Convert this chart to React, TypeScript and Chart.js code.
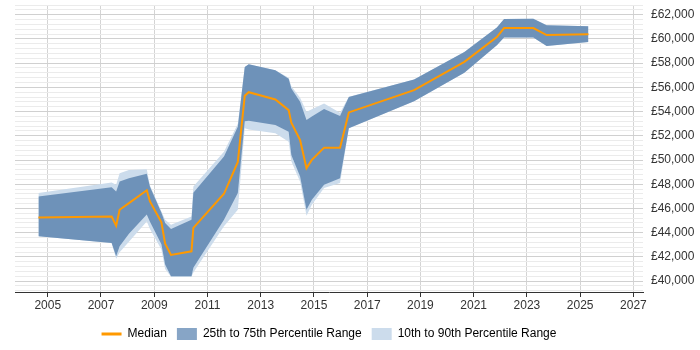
import { useEffect, useRef } from 'react';
import { Chart, registerables } from 'chart.js';

Chart.register(...registerables);

// Dates as decimal years
const dates = [
  2004.65, 2007.4, 2007.57, 2007.7, 2008.05, 2008.72, 2008.84, 2009.27, 2009.41, 2009.63,
  2010.4, 2010.47, 2011.62, 2012.14, 2012.4, 2012.55, 2013.55, 2014.05, 2014.15, 2014.48,
  2014.72, 2014.92, 2015.38, 2015.98, 2016.31, 2018.76, 2020.65, 2021.87, 2022.14, 2023.24,
  2023.74, 2025.31,
];

const median = [
  45250, 45330, 44580, 45890, 46440, 47500, 46580, 44850, 43090, 42160,
  42460, 44390, 47210, 49840, 55300, 55600, 55000, 54120, 53080, 51650,
  49330, 50010, 51020, 51020, 53930, 55770, 58100, 60150, 60900, 60900,
  60320, 60380,
];

const p75 = [
  46990, 47760, 47400, 48220, 48500, 48860, 47800, 45650, 44800, 44300,
  45070, 47300, 50280, 52750, 57690, 57910, 57420, 56700, 55910, 54810,
  53300, 53600, 54210, 53630, 55200, 56650, 58920, 60950, 61650, 61670,
  61120, 61040,
];

const p25 = [
  43700, 43150, 42050, 42870, 43900, 45500, 44900, 43050, 41370, 40400,
  40400, 41100, 45070, 47270, 53200, 53250, 52900, 52340, 50420, 48630,
  45890, 46720, 47950, 48500, 52620, 54850, 57200, 59470, 60110, 60110,
  59420, 59740,
];

const p90 = [
  47270, 48140, 47950, 48910, 49180, 49240, 47900, 45750, 45070, 44660,
  45340, 47810, 50690, 53000, 57690, 57910, 57420, 56800, 56100, 55150,
  53980, 54200, 54670, 53900, 55220, 56650, 58920, 60950, 61650, 61670,
  61120, 61040,
];

const p10 = [
  43700, 43150, 41840, 42380, 43250, 44930, 44300, 42600, 41000, 40350,
  40350, 40700, 44520, 45890, 52620, 52510, 52200, 51510, 49900, 48200,
  45400, 46300, 47680, 48100, 52620, 54850, 57200, 59470, 60110, 60110,
  59420, 59740,
];

const xTickYears = [2005, 2007, 2009, 2011, 2013, 2015, 2017, 2019, 2021, 2023, 2025, 2027];
const yMin = 39100;
const yMax = 62800;
const yMinorStep = 400;
const yMajorStep = 2000;

const legendLabels = ['Median', '25th to 75th Percentile Range', '10th to 90th Percentile Range'];

const ORANGE = '#ff9900';
const DARK = '#6e92b9';
const LIGHT = '#ccdcec';
const FONT = 'Arial, "Liberation Sans", sans-serif';

export default function App() {
  const ref = useRef<HTMLCanvasElement>(null);

  useEffect(() => {
    if (!ref.current) return;
    const pts = (vals: number[]) => dates.map((d, i) => ({ x: d, y: vals[i] }));
    const none = 'rgba(0,0,0,0)';
    Chart.defaults.font.family = FONT;
    Chart.defaults.font.size = 12;
    Chart.defaults.color = '#333';

    const chart = new Chart(ref.current, {
      type: 'line',
      data: {
        datasets: [
          {
            label: legendLabels[0],
            data: pts(median),
            borderColor: ORANGE,
            borderWidth: 2,
            pointRadius: 0,
            fill: false,
            tension: 0,
            order: 0,
          },
          {
            label: legendLabels[1],
            data: pts(p75),
            borderColor: none,
            borderWidth: 0,
            backgroundColor: DARK,
            pointRadius: 0,
            fill: 2,
            tension: 0,
            order: 1,
          },
          {
            label: 'p25',
            data: pts(p25),
            borderColor: none,
            borderWidth: 0,
            pointRadius: 0,
            fill: false,
            tension: 0,
            order: 1,
          },
          {
            label: legendLabels[2],
            data: pts(p90),
            borderColor: none,
            borderWidth: 0,
            backgroundColor: LIGHT,
            pointRadius: 0,
            fill: 4,
            tension: 0,
            order: 2,
          },
          {
            label: 'p10',
            data: pts(p10),
            borderColor: none,
            borderWidth: 0,
            pointRadius: 0,
            fill: false,
            tension: 0,
            order: 2,
          },
        ],
      },
      options: {
        animation: false,
        responsive: true,
        maintainAspectRatio: false,
        events: [],
        layout: { padding: { left: 15, top: 5, right: 0, bottom: 0 } },
        plugins: {
          tooltip: { enabled: false },
          legend: {
            position: 'bottom',
            fullSize: false,
            labels: {
              usePointStyle: true,
              pointStyleWidth: 20,
              boxHeight: 12,
              padding: 10,
              color: '#333',
              font: { size: 12, family: FONT },
              generateLabels: () => [
                {
                  text: legendLabels[0],
                  pointStyle: 'line',
                  strokeStyle: ORANGE,
                  fillStyle: ORANGE,
                  lineWidth: 3,
                  hidden: false,
                  datasetIndex: 0,
                },
                {
                  text: legendLabels[1],
                  pointStyle: 'rect',
                  strokeStyle: '#87a5c6',
                  fillStyle: '#87a5c6',
                  lineWidth: 0,
                  hidden: false,
                  datasetIndex: 1,
                },
                {
                  text: legendLabels[2],
                  pointStyle: 'rect',
                  strokeStyle: LIGHT,
                  fillStyle: LIGHT,
                  lineWidth: 0,
                  hidden: false,
                  datasetIndex: 3,
                },
              ],
            },
          },
        },
        scales: {
          x: {
            type: 'linear',
            min: 2003.77,
            max: 2027.36,
            afterBuildTicks: (s: any) => {
              s.ticks = xTickYears.map((v) => ({ value: v }));
            },
            afterFit: (s: any) => {
              s.height = 26;
              s.paddingLeft = 0;
              s.paddingRight = 0;
            },
            ticks: {
              autoSkip: false,
              maxRotation: 0,
              padding: 1,
              color: '#333',
              font: { size: 12, family: FONT },
              callback: (v: any) => String(v),
            },
            grid: {
              color: '#d4d4d4',
              tickLength: 5,
              tickColor: '#333',
              drawTicks: true,
            },
            border: { color: '#333', width: 1 },
          },
          y: {
            type: 'linear',
            position: 'right',
            min: yMin,
            max: yMax,
            afterBuildTicks: (s: any) => {
              const t: { value: number }[] = [];
              for (let v = yMin + 100; v <= yMax; v += yMinorStep) t.push({ value: v });
              s.ticks = t;
            },
            afterFit: (s: any) => {
              s.width = 57;
              s.paddingTop = 0;
              s.paddingBottom = 0;
            },
            ticks: {
              autoSkip: false,
              padding: 8,
              color: '#333',
              font: { size: 12, family: FONT },
              callback: (v: any) =>
                Number(v) % yMajorStep === 0 ? '£' + Number(v).toLocaleString('en-GB') : '',
            },
            grid: {
              drawTicks: false,
              color: (ctx: any) =>
                ctx.tick && ctx.tick.value % yMajorStep === 0 ? '#d0d0d0' : '#ebebeb',
            },
            border: { display: false },
          },
        },
      },
    } as any);

    return () => chart.destroy();
  }, []);

  return (
    <div style={{ position: 'absolute', left: 0, top: 0, width: 700, height: 350 }}>
      <canvas ref={ref} />
    </div>
  );
}
